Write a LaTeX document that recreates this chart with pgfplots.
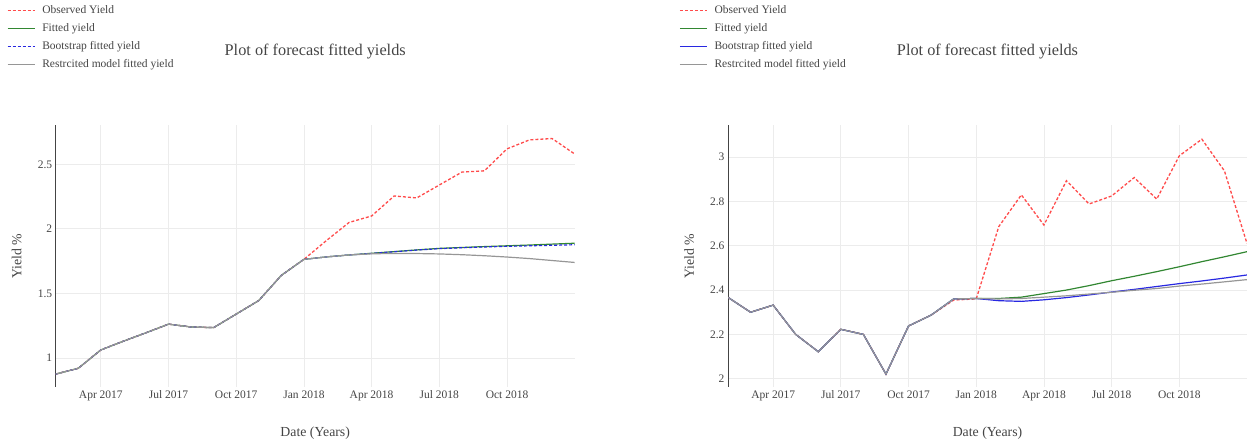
\documentclass[border=0pt]{standalone}
\usepackage{fontspec}
\setmainfont{Liberation Serif}
\usepackage{pgfplots}
\usepackage{pgfplotstable}
\pgfplotsset{compat=1.18}

\definecolor{obsred}{RGB}{255,75,75}
\definecolor{fitgreen}{RGB}{50,135,50}
\definecolor{bootblue}{RGB}{40,40,225}
\definecolor{resgray}{RGB}{150,150,150}
\definecolor{txt}{RGB}{68,68,68}
\definecolor{gridc}{RGB}{236,236,236}

\pgfplotstableread{
x obs fit boot res
1 0.875 0.875 0.875 0.875
2 0.920 0.920 0.920 0.920
3 1.062 1.062 1.062 1.062
4 1.130 1.130 1.130 1.130
5 1.195 1.195 1.195 1.195
6 1.262 1.262 1.262 1.262
7 1.240 1.240 1.240 1.240
8 1.235 1.235 1.235 1.235
9 1.340 1.340 1.340 1.340
10 1.445 1.445 1.445 1.445
11 1.640 1.640 1.640 1.640
12 1.764 1.764 1.764 1.764
13 1.910 1.783 1.783 1.783
14 2.050 1.798 1.798 1.798
15 2.100 1.811 1.810 1.807
16 2.255 1.824 1.823 1.810
17 2.240 1.837 1.836 1.809
18 2.340 1.849 1.847 1.806
19 2.440 1.856 1.854 1.800
20 2.450 1.863 1.860 1.792
21 2.620 1.869 1.865 1.782
22 2.690 1.875 1.869 1.770
23 2.700 1.882 1.873 1.755
24 2.580 1.889 1.877 1.740
}\leftdata

\pgfplotstableread{
x obs fit boot res
1 2.367 2.367 2.367 2.367
2 2.300 2.300 2.300 2.300
3 2.332 2.332 2.332 2.332
4 2.200 2.200 2.200 2.200
5 2.122 2.122 2.122 2.122
6 2.223 2.223 2.223 2.223
7 2.200 2.200 2.200 2.200
8 2.021 2.021 2.021 2.021
9 2.238 2.238 2.238 2.238
10 2.287 2.287 2.287 2.287
11 2.355 2.360 2.360 2.360
12 2.360 2.362 2.362 2.362
13 2.686 2.362 2.352 2.360
14 2.829 2.368 2.349 2.362
15 2.693 2.384 2.356 2.368
16 2.893 2.400 2.366 2.374
17 2.788 2.420 2.378 2.382
18 2.824 2.442 2.391 2.390
19 2.907 2.462 2.403 2.399
20 2.810 2.483 2.416 2.407
21 3.005 2.505 2.429 2.418
22 3.080 2.528 2.441 2.427
23 2.937 2.550 2.454 2.437
24 2.610 2.573 2.468 2.447
}\rightdata

\pgfplotsset{
  yieldaxis/.style={
    scale only axis, width=519pt, height=262pt,
    xmin=1, xmax=24,
    xtick={3,6,9,12,15,18,21},
    xticklabels={Apr 2017, Jul 2017, Oct 2017, Jan 2018, Apr 2018, Jul 2018, Oct 2018},
    grid=major, major grid style={gridc, line width=0.8pt},
    major tick length=0pt,
    axis x line*=bottom, axis y line*=left,
    x axis line style={draw=none},
    y axis line style={draw=txt, line width=0.9pt, -},
    tick label style={font=\fontsize{11.5}{13}\selectfont, text=txt},
    /pgf/number format/assume math mode=true,
    xlabel={Date (Years)}, ylabel={Yield \%},
    label style={font=\fontsize{13.8}{16}\selectfont, text=txt},
    xlabel style={at={(axis description cs:0.5,-0.1756)}, anchor=center},
    ylabel style={at={(axis description cs:-0.075,0.5)}, anchor=center},
    title={Plot of forecast fitted yields},
    title style={at={(axis description cs:0.5,1.258)}, anchor=center,
                 font=\fontsize{16.3}{18}\selectfont, text=txt},
    legend cell align=left,
    legend image code/.code={\draw[##1] (0pt,0pt) -- (27pt,0pt);},
    legend style={at={(axis description cs:-0.0939,1.456)}, anchor=north west,
      draw=none, fill=none, inner sep=0pt, outer sep=0pt, row sep=8.5pt,
      font=\fontsize{11.5}{13}\selectfont, text=txt,
      nodes={inner sep=0pt, text height=7.5pt, text depth=2pt},
      /tikz/every odd column/.append style={column sep=7pt}},
  },
  obsstyle/.style={obsred, line width=1.3pt, dash pattern=on 3pt off 2pt},
  fitstyle/.style={fitgreen, line width=1.2pt},
  bootstyle/.style={bootblue, line width=1.2pt},
  resstyle/.style={resgray, line width=1.2pt},
}

\begin{document}
\begin{tikzpicture}
\useasboundingbox (0,0) rectangle (1247pt,444pt);
\begin{axis}[yieldaxis, at={(55.7pt,57pt)}, anchor=south west,
  ymin=0.775, ymax=2.805, ytick={1,1.5,2,2.5}]
\addplot[obsstyle] table[x=x,y=obs]{\leftdata};
\addlegendentry{Observed Yield}
\addplot[fitstyle] table[x=x,y=fit]{\leftdata};
\addlegendentry{Fitted yield}
\addplot[bootstyle, dash pattern=on 3pt off 2pt] table[x=x,y=boot]{\leftdata};
\addlegendentry{Bootstrap fitted yield}
\addplot[resstyle] table[x=x,y=res]{\leftdata};
\addlegendentry{Restrcited model fitted yield}
\end{axis}
\begin{axis}[yieldaxis, at={(728pt,57pt)}, anchor=south west,
  ymin=1.963, ymax=3.144, ytick={2,2.2,2.4,2.6,2.8,3},
  yticklabels={2,2.2,2.4,2.6,2.8,3}]
\addplot[obsstyle] table[x=x,y=obs]{\rightdata};
\addlegendentry{Observed Yield}
\addplot[fitstyle] table[x=x,y=fit]{\rightdata};
\addlegendentry{Fitted yield}
\addplot[bootstyle] table[x=x,y=boot]{\rightdata};
\addlegendentry{Bootstrap fitted yield}
\addplot[resstyle] table[x=x,y=res]{\rightdata};
\addlegendentry{Restrcited model fitted yield}
\end{axis}
\end{tikzpicture}
\end{document}
